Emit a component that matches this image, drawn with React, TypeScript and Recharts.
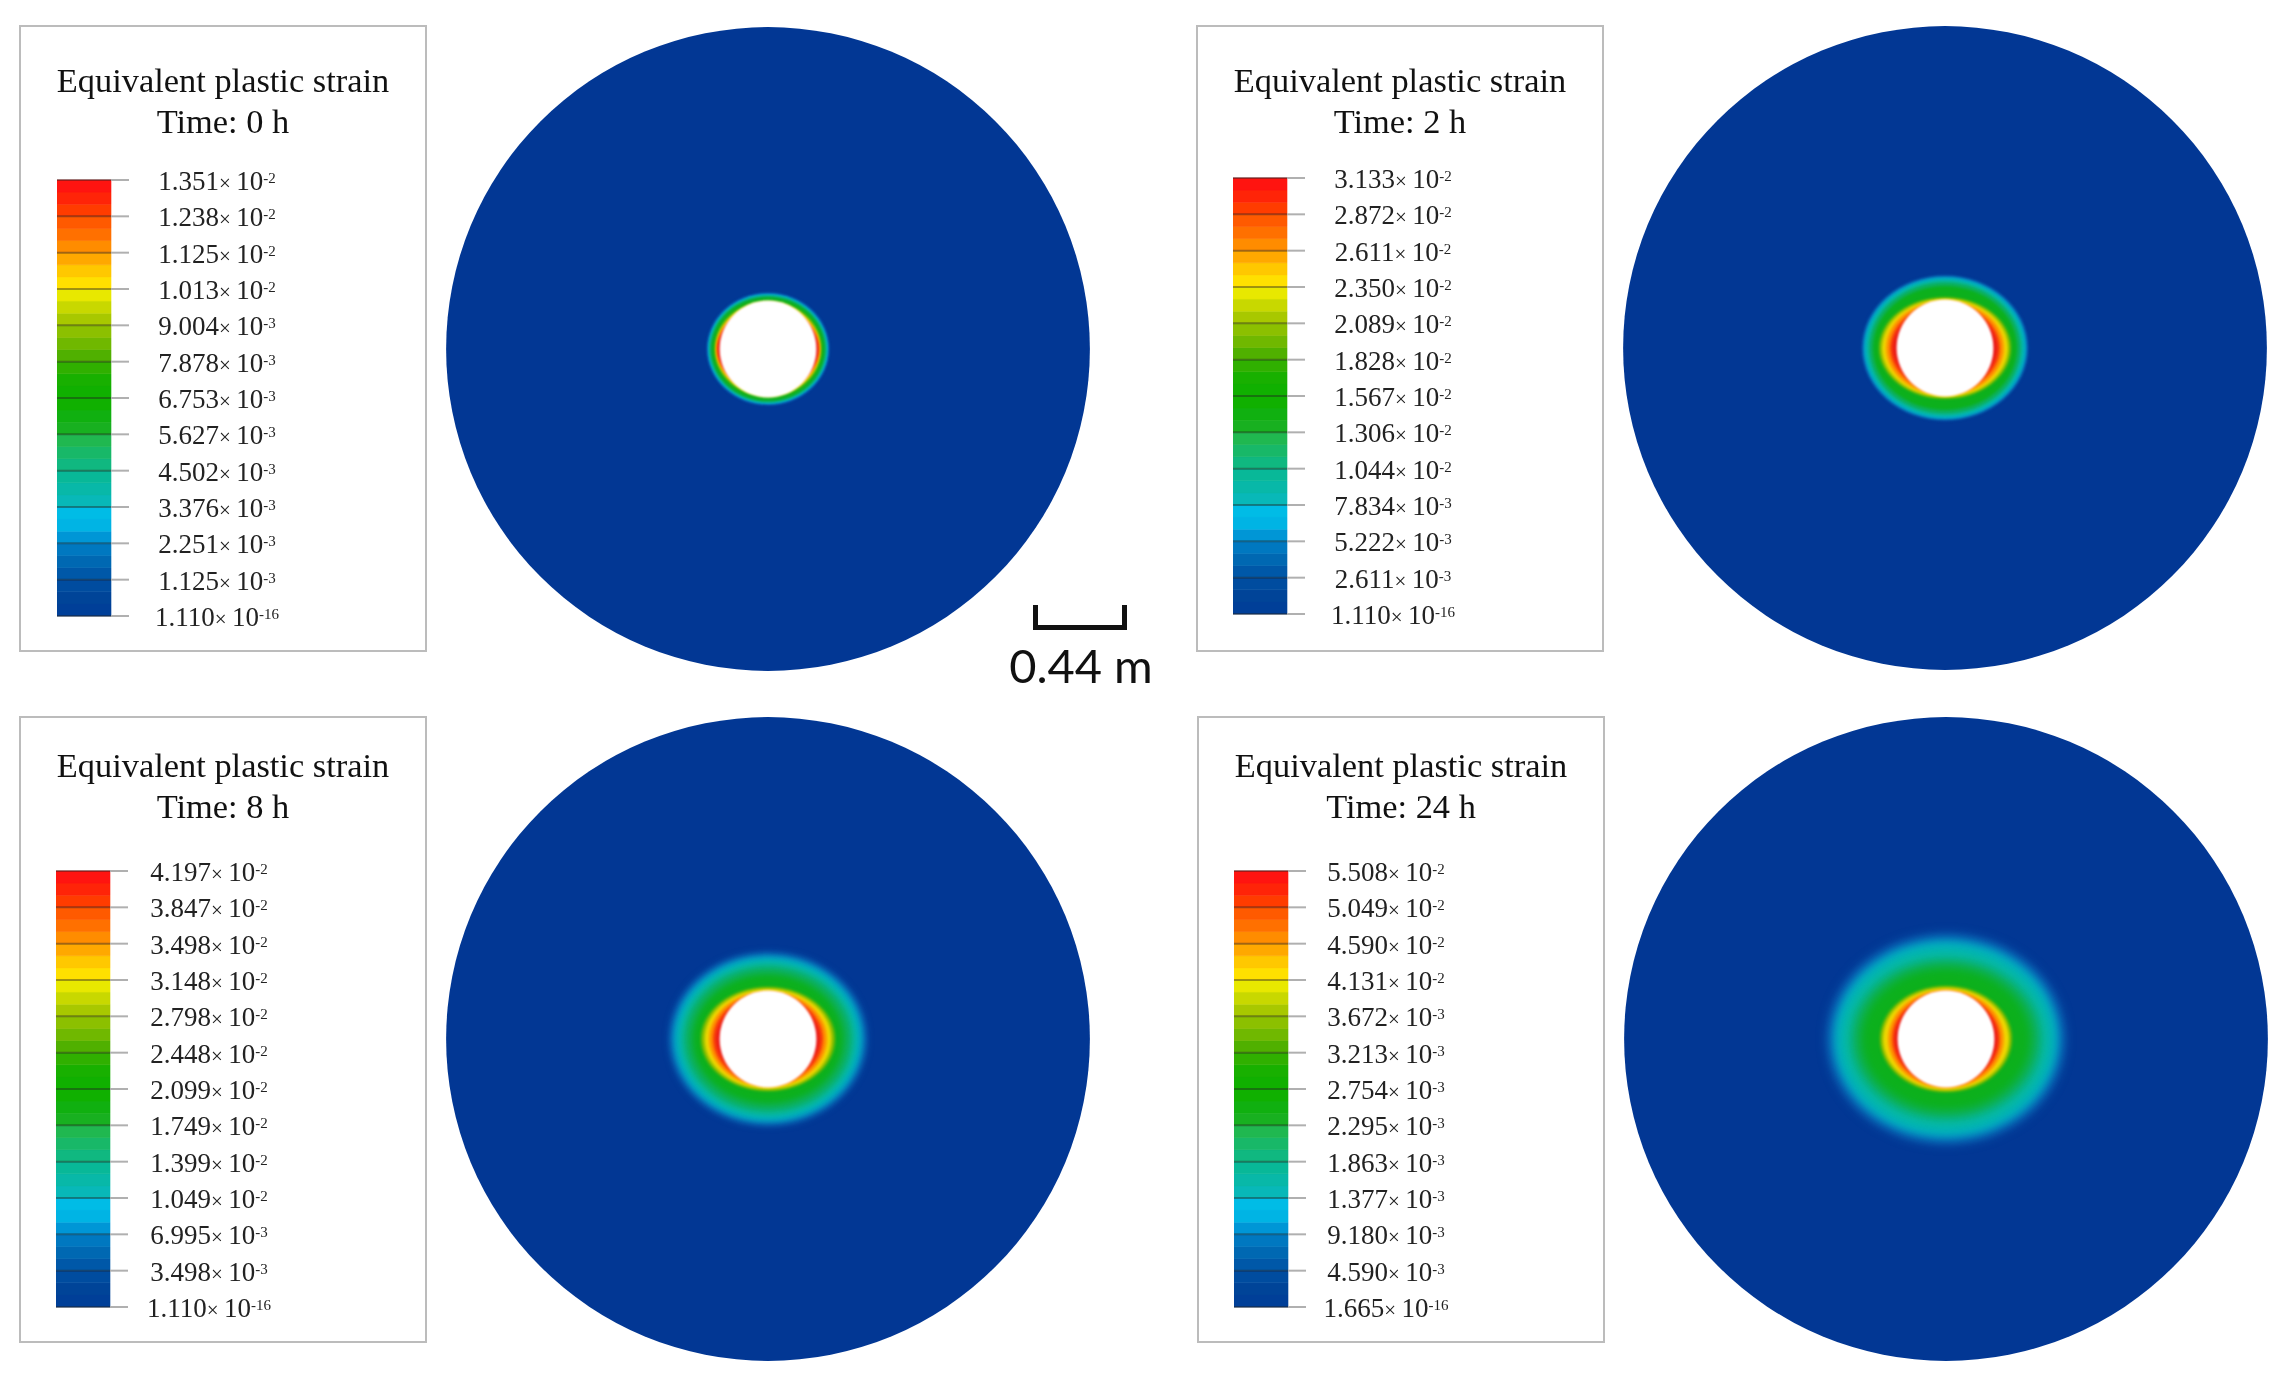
import React from 'react'
import { BarChart, Bar, XAxis, YAxis, ScatterChart, ReferenceArea } from 'recharts'

// legend labels, top to bottom: [mantissa, exponent]
const LABELS_0H = [['1.351', '-2'], ['1.238', '-2'], ['1.125', '-2'], ['1.013', '-2'], ['9.004', '-3'], ['7.878', '-3'], ['6.753', '-3'], ['5.627', '-3'], ['4.502', '-3'], ['3.376', '-3'], ['2.251', '-3'], ['1.125', '-3'], ['1.110', '-16']]
const LABELS_2H = [['3.133', '-2'], ['2.872', '-2'], ['2.611', '-2'], ['2.350', '-2'], ['2.089', '-2'], ['1.828', '-2'], ['1.567', '-2'], ['1.306', '-2'], ['1.044', '-2'], ['7.834', '-3'], ['5.222', '-3'], ['2.611', '-3'], ['1.110', '-16']]
const LABELS_8H = [['4.197', '-2'], ['3.847', '-2'], ['3.498', '-2'], ['3.148', '-2'], ['2.798', '-2'], ['2.448', '-2'], ['2.099', '-2'], ['1.749', '-2'], ['1.399', '-2'], ['1.049', '-2'], ['6.995', '-3'], ['3.498', '-3'], ['1.110', '-16']]
const LABELS_24H = [['5.508', '-2'], ['5.049', '-2'], ['4.590', '-2'], ['4.131', '-2'], ['3.672', '-3'], ['3.213', '-3'], ['2.754', '-3'], ['2.295', '-3'], ['1.863', '-3'], ['1.377', '-3'], ['9.180', '-3'], ['4.590', '-3'], ['1.665', '-16']]

// colour bar bands, bottom to top, three per tick interval
const BAND_COLORS = [
  '#003f98', '#004498', '#004c9f',
  '#0058a8', '#0068b2', '#0078c0',
  '#0096d6', '#00b4e4', '#00bce6',
  '#08b8b8', '#08b8a8', '#08b898',
  '#10b880', '#18b868', '#20b850',
  '#18b020', '#10b010', '#10b000',
  '#10b000', '#18b000', '#30b000',
  '#50b000', '#70b800', '#8cc000',
  '#a8c800', '#c8d800', '#e8e800',
  '#ffe000', '#ffc800', '#ffa800',
  '#ff8c00', '#ff7000', '#ff5a00',
  '#ff3c00', '#ff2408', '#ff1410',
]
const BAND_SIZE = [1 / 3]

// contour levels, outermost first: semi-axes in metres
const CONTOUR_COLORS = ['#0a5fb4', '#00a8c8', '#04b8aa', '#0cb060', '#0cb01c', '#84bc00', '#f0d800', '#ff9000', '#f8380c', '#e81818']
const RX_0H = [0.291, 0.284, 0.279, 0.274, 0.267, 0.251, 0.246, 0.244, 0.239, 0.237]
const RY_0H = [0.267, 0.26, 0.255, 0.251, 0.244, 0.227, 0.218, 0.208, 0.194, 0.175]
const RX_2H = [0.393, 0.385, 0.374, 0.359, 0.341, 0.312, 0.298, 0.279, 0.26, 0.246]
const RY_2H = [0.343, 0.336, 0.326, 0.312, 0.293, 0.239, 0.232, 0.222, 0.208, 0.184]
const RX_8H = [0.47, 0.449, 0.426, 0.397, 0.359, 0.317, 0.3, 0.279, 0.26, 0.244]
const RY_8H = [0.413, 0.393, 0.374, 0.345, 0.307, 0.246, 0.237, 0.225, 0.213, 0.189]
const RX_24H = [0.568, 0.534, 0.506, 0.45, 0.405, 0.312, 0.298, 0.274, 0.255, 0.241]
const RY_24H = [0.5, 0.468, 0.44, 0.38, 0.34, 0.251, 0.241, 0.232, 0.218, 0.199]

const DISC_RADIUS = 1.523
const HOLE_RADIUS = 0.229
const DISC_COLOR = '#023794'
const DOMAIN: [number, number] = [-1.656, 1.656]

const SERIF = '"Liberation Serif", serif'

const bandRow = [Object.fromEntries(BAND_COLORS.map((_, i) => [`b${i}`, BAND_SIZE[0]]))]
const tickIndexes = [0, 1, 2, 3, 4, 5, 6, 7, 8, 9, 10, 11, 12]

function LegendTick({ x, y, payload, labels, labelOffset }: any) {
  const [mantissa, exp] = labels[12 - payload.value]
  return (
    <g>
      <line x1={x - 54} x2={x} y1={y} y2={y} stroke="#222" strokeOpacity={0.42} strokeWidth={2} />
      <line x1={x} x2={x + 18} y1={y} y2={y} stroke="#b0b0b0" strokeWidth={2} />
      <text x={x + labelOffset} y={y + 10} textAnchor="middle" fontFamily={SERIF} fontSize={27} fill="#222">
        {mantissa}
        <tspan fontSize={21}>× </tspan>
        10
        <tspan fontSize={15} dy={-7}>{exp}</tspan>
      </text>
    </g>
  )
}

function ColorBar({ left, top, labels, labelOffset }: any) {
  return (
    <div style={{ position: 'absolute', left, top: top - 20 }}>
      <BarChart width={274} height={476} data={bandRow} margin={{ top: 20, bottom: 20, left: 0, right: 0 }} barCategoryGap={0}>
        <XAxis hide dataKey={() => 'band'} />
        <YAxis
          orientation="right"
          width={220}
          type="number"
          domain={[0, 12]}
          ticks={tickIndexes}
          interval={0}
          axisLine={false}
          tickLine={false}
          tickSize={0}
          tickMargin={0}
          tick={<LegendTick labels={labels} labelOffset={labelOffset} />}
        />
        {BAND_COLORS.map((color, i) => (
          <Bar key={i} dataKey={`b${i}`} stackId="bar" fill={color} stroke={color} strokeWidth={0.6} isAnimationActive={false} />
        ))}
      </BarChart>
    </div>
  )
}

const ellipseShape = (fill: string, blur: number) => ({ x, y, width, height }: any) => (
  <ellipse cx={x + width / 2} cy={y + height / 2} rx={width / 2} ry={height / 2} fill={fill} style={{ filter: blur ? `blur(${blur}px)` : undefined }} />
)

function Ellipse(rx: number, ry: number, fill: string, blur: number, key: string) {
  return <ReferenceArea key={key} x1={-rx} x2={rx} y1={-ry} y2={ry} ifOverflow="visible" shape={ellipseShape(fill, blur)} />
}

function Disc({ cx, cy, rx, ry, blur }: any) {
  return (
    <div style={{ position: 'absolute', left: cx - 350, top: cy - 350 }}>
      <ScatterChart width={700} height={700} margin={{ top: 0, right: 0, bottom: 0, left: 0 }}>
        <XAxis hide type="number" dataKey="x" domain={DOMAIN} allowDataOverflow />
        <YAxis hide type="number" dataKey="y" domain={DOMAIN} allowDataOverflow />
        {Ellipse(DISC_RADIUS, DISC_RADIUS, DISC_COLOR, 0.6, 'disc')}
        {CONTOUR_COLORS.map((color, i) => Ellipse(rx[i], ry[i], color, i < 5 ? blur : 1.4, `c${i}`))}
        {Ellipse(HOLE_RADIUS, HOLE_RADIUS, '#ffffff', 1, 'hole')}
      </ScatterChart>
    </div>
  )
}

function Panel({ box, titleTop, time, barLeft, barTop, labels, labelOffset, disc, rx, ry, blur }: any) {
  return (
    <>
      <div
        style={{
          position: 'absolute', left: box[0], top: box[1], width: 408, height: 627, boxSizing: 'border-box',
          border: '2px solid #bcbcbc', background: '#fff',
        }}
      />
      <div
        style={{
          position: 'absolute', left: box[0], top: box[1] + titleTop, width: 408, textAlign: 'center',
          fontFamily: SERIF, fontSize: 34.4, lineHeight: '41px', color: '#111',
        }}
      >
        Equivalent plastic strain
        <br />
        Time: {time}
      </div>
      <ColorBar left={barLeft} top={barTop} labels={labels} labelOffset={labelOffset} />
      <Disc cx={disc[0]} cy={disc[1]} rx={rx} ry={ry} blur={blur} />
    </>
  )
}

export default function App() {
  return (
    <div style={{ position: 'absolute', left: 0, top: 0, width: 2292, height: 1388, background: '#fff', overflow: 'hidden', filter: 'blur(0.6px)' }}>
      <Panel box={[19, 25]} titleTop={35} time="0 h" barLeft={57} barTop={180} labels={LABELS_0H} labelOffset={106} disc={[768, 348.5]} rx={RX_0H} ry={RY_0H} blur={1.2} />
      <Panel box={[1196, 25]} titleTop={35} time="2 h" barLeft={1233} barTop={178} labels={LABELS_2H} labelOffset={106} disc={[1944.5, 348]} rx={RX_2H} ry={RY_2H} blur={1.6} />
      <Panel box={[19, 716]} titleTop={29} time="8 h" barLeft={56} barTop={871} labels={LABELS_8H} labelOffset={99} disc={[767.5, 1039]} rx={RX_8H} ry={RY_8H} blur={3} />
      <Panel box={[1197, 716]} titleTop={29} time="24 h" barLeft={1234} barTop={871} labels={LABELS_24H} labelOffset={98} disc={[1945.5, 1039]} rx={RX_24H} ry={RY_24H} blur={5} />
      {/* scale bar */}
      <div style={{ position: 'absolute', left: 1033, top: 605, width: 94, height: 25, boxSizing: 'border-box', borderLeft: '5px solid #111', borderRight: '5px solid #111', borderBottom: '5px solid #111' }} />
      <div style={{ position: 'absolute', left: 981, top: 635, width: 200, textAlign: 'center', fontFamily: 'Lato, sans-serif', fontSize: 47, lineHeight: '60px', color: '#111' }}>
        0.44 m
      </div>
    </div>
  )
}
